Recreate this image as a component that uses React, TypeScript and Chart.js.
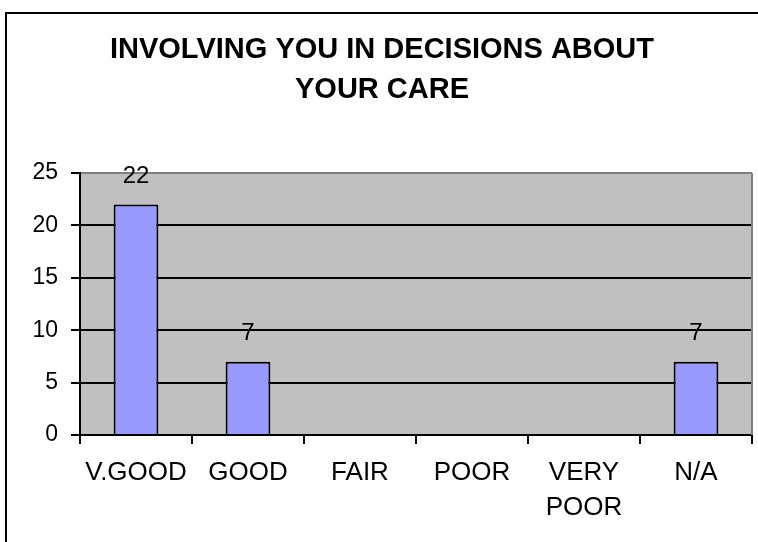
import React, { useEffect, useRef } from "react";
import { Chart, registerables } from "chart.js";

Chart.register(...registerables);

const TITLE_LINES = ["INVOLVING YOU IN DECISIONS ABOUT", "YOUR CARE"];
const CATEGORIES: (string | string[])[] = ["V.GOOD", "GOOD", "FAIR", "POOR", ["VERY", "POOR"], "N/A"];
const VALUES = [22, 7, 0, 0, 0, 7];
const Y_MIN = 0;
const Y_MAX = 25;
const Y_STEP = 5;

const FONT = "'Liberation Sans', Arial, sans-serif";

const framePlugin = {
  id: "frame",
  beforeDraw(chart: any) {
    const { ctx, chartArea, width, height } = chart;
    ctx.save();
    ctx.fillStyle = "#ffffff";
    ctx.fillRect(0, 0, width, height);
    ctx.strokeStyle = "#000000";
    ctx.lineWidth = 2;
    ctx.beginPath();
    ctx.moveTo(6, height + 2);
    ctx.lineTo(6, 13);
    ctx.lineTo(width + 2, 13);
    ctx.stroke();
    ctx.fillStyle = "#C0C0C0";
    ctx.fillRect(chartArea.left, chartArea.top, chartArea.right - chartArea.left, chartArea.bottom - chartArea.top);
    ctx.restore();
  },
  beforeDatasetsDraw(chart: any) {
    const { ctx, chartArea } = chart;
    ctx.save();
    ctx.strokeStyle = "#808080";
    ctx.lineWidth = 2;
    ctx.beginPath();
    ctx.moveTo(chartArea.right, chartArea.top);
    ctx.lineTo(chartArea.right, chartArea.bottom);
    ctx.stroke();
    ctx.restore();
  },
};

const valueLabelPlugin = {
  id: "valueLabels",
  afterDatasetsDraw(chart: any) {
    const { ctx } = chart;
    const meta = chart.getDatasetMeta(0);
    const data = chart.data.datasets[0].data as number[];
    ctx.save();
    ctx.fillStyle = "#000000";
    ctx.font = `24px ${FONT}`;
    ctx.textAlign = "center";
    ctx.textBaseline = "middle";
    meta.data.forEach((bar: any, i: number) => {
      const v = data[i];
      if (v > 0) ctx.fillText(String(v), bar.x, bar.y - 28.5);
    });
    ctx.restore();
  },
};

export default function App() {
  const canvasRef = useRef<HTMLCanvasElement | null>(null);

  useEffect(() => {
    if (!canvasRef.current) return;
    const chart = new Chart(canvasRef.current, {
      type: "bar",
      data: {
        labels: CATEGORIES,
        datasets: [
          {
            data: VALUES,
            backgroundColor: "#9999FF",
            borderColor: "#000000",
            borderWidth: 2,
            borderSkipped: "start",
            barPercentage: 0.4,
            categoryPercentage: 1,
          },
        ],
      },
      options: {
        animation: false,
        responsive: false,
        maintainAspectRatio: false,
        devicePixelRatio: 1,
        layout: { padding: { top: 0, left: 12, right: 6, bottom: 0 } },
        plugins: {
          legend: { display: false },
          tooltip: { enabled: false },
          title: {
            display: true,
            text: TITLE_LINES,
            color: "#000000",
            font: { family: FONT, size: 29, weight: "bold", lineHeight: "40px" },
            padding: { top: 30, bottom: 63 },
          },
        },
        scales: {
          x: {
            afterFit(scale: any) {
              scale.height = 107;
            },
            grid: {
              display: true,
              drawOnChartArea: false,
              drawTicks: true,
              tickLength: 9,
              tickColor: "#000000",
              tickWidth: 2,
              color: "#000000",
              lineWidth: 2,
              offset: true,
            },
            border: { display: true, color: "#000000", width: 2 },
            ticks: {
              color: "#000000",
              font: { family: FONT, size: 26, lineHeight: "35px" },
              padding: 11,
              autoSkip: false,
              maxRotation: 0,
              minRotation: 0,
            },
          },
          y: {
            min: Y_MIN,
            max: Y_MAX,
            afterFit(scale: any) {
              scale.width = 68;
            },
            grid: {
              drawTicks: true,
              tickLength: 9,
              tickColor: "#000000",
              tickWidth: 2,
              color: (c: any) => (c.tick && c.tick.value === Y_MAX ? "#808080" : "#000000"),
              lineWidth: 2,
            },
            border: { display: true, color: "#000000", width: 2 },
            ticks: {
              stepSize: Y_STEP,
              color: "#000000",
              font: { family: FONT, size: 23 },
              padding: 13,
            },
          },
        },
      },
      plugins: [framePlugin, valueLabelPlugin],
    });
    return () => chart.destroy();
  }, []);

  return (
    <div style={{ position: "fixed", left: 0, top: 0, width: 758, height: 542, background: "#ffffff" }}>
      <canvas ref={canvasRef} width={758} height={542} style={{ width: 758, height: 542, display: "block" }} />
    </div>
  );
}
